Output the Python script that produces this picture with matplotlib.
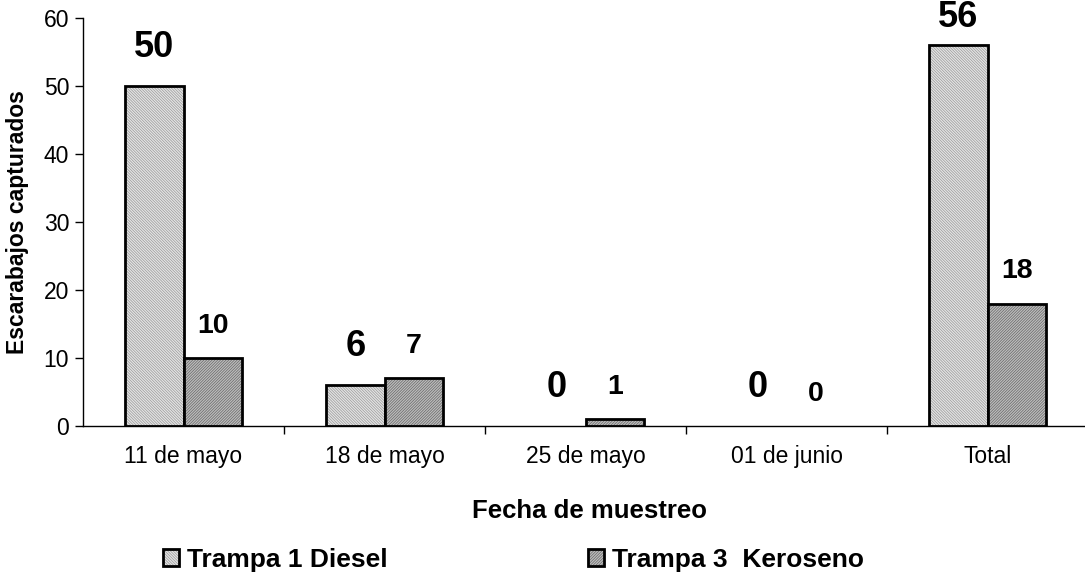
import numpy as np
import matplotlib.pyplot as plt

plt.rcParams['font.family'] = ['Liberation Sans', 'DejaVu Sans']
plt.rcParams['hatch.linewidth'] = 0.5

# data
fechas = ["11 de mayo", "18 de mayo", "25 de mayo", "01 de junio", "Total"]
diesel = [50, 6, 0, 0, 56]
keroseno = [10, 7, 1, 0, 18]
nombres = ["Trampa 1 Diesel", "Trampa 3  Keroseno"]

fig = plt.figure(figsize=(10.85, 5.73), dpi=100)
ax = fig.add_axes([83/1085, 1 - 426/573, 1 - 83/1085, (426 - 18)/573])

x = np.arange(len(fechas))
w = 0.29
b1 = ax.bar(x - w/2, diesel, w, facecolor='#e4e4e4', edgecolor='black',
            linewidth=2, hatch='\\' * 12, label=nombres[0])
b2 = ax.bar(x + w/2, keroseno, w, facecolor='#bdbdbd', edgecolor='black',
            linewidth=2, hatch='/' * 12, label=nombres[1])
for b in b1:
    b._hatch_color = (0.6, 0.6, 0.6, 1)
for b in b2:
    b._hatch_color = (0.4, 0.4, 0.4, 1)
for b, v in zip(list(b1) + list(b2), diesel + keroseno):
    if v == 0:
        b.set_linewidth(0)

# value labels
for xi, v in zip(x, diesel):
    off = 7 if v > 52 else 15
    ax.annotate(str(v), (xi - w/2, v), xytext=(0, off), textcoords='offset points',
                ha='center', va='bottom', fontsize=26, fontweight='bold')
for xi, v in zip(x, keroseno):
    ax.annotate(str(v), (xi + w/2, v), xytext=(0, 14), textcoords='offset points',
                ha='center', va='bottom', fontsize=20.5, fontweight='bold')

ax.set_ylim(0, 60)
ax.set_xlim(-0.5, 4.485)
ax.set_yticks(range(0, 61, 10))
ax.set_xticks(x)
ax.set_xticklabels(fechas)
ax.set_xticks(np.arange(0.5, 4, 1), minor=True)
ax.tick_params(axis='x', which='major', length=0, pad=14, labelsize=16.5)
ax.tick_params(axis='x', which='minor', length=6, direction='out', width=1)
ax.tick_params(axis='y', length=6, direction='out', width=1, labelsize=16.5, pad=4)
for s in ['top', 'right']:
    ax.spines[s].set_visible(False)
for s in ['left', 'bottom']:
    ax.spines[s].set_linewidth(1)

ax.set_ylabel("Escarabajos capturados", fontsize=16.5, fontweight='bold', va='center')
ax.yaxis.set_label_coords(-65/1002, 0.5)
fig.text(590/1085, 1 - 511/573, "Fecha de muestreo", ha='center', va='center',
         fontsize=18.5, fontweight='bold')

leg = fig.legend(handles=[b1, b2], loc='center left', bbox_to_anchor=(150/1085, 1 - 560/573),
                 ncol=2, frameon=False, prop={'weight': 'bold', 'size': 19},
                 handlelength=0.6, handleheight=0.6, handletextpad=0.3, columnspacing=7.6,
                 borderpad=0)

fig.savefig("out.png", dpi=100)
